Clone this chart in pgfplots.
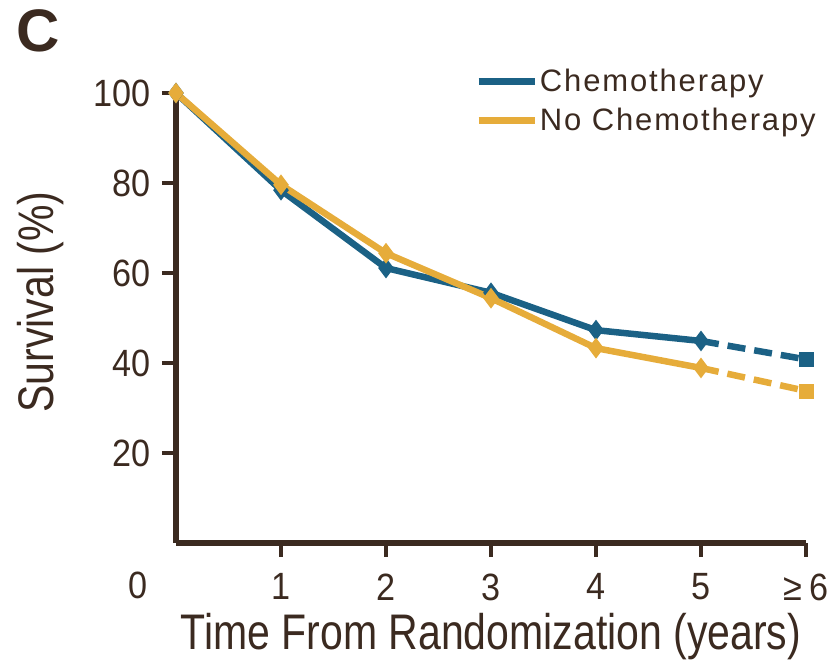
\documentclass[border=0pt]{standalone}
\usepackage{fontspec}
\usepackage{pgfplots}
\pgfplotsset{compat=1.18}
\setmainfont{Liberation Sans}
\newfontfamily\condensed{Liberation Sans}[FakeStretch=0.82]
\newfontfamily\ticks{Liberation Sans}[FakeStretch=0.9]
\newfontfamily\spaced{Liberation Sans}[LetterSpace=6]

\definecolor{axbrown}{HTML}{3B2A20}
\definecolor{chemoblue}{HTML}{1B6185}
\definecolor{nochemo}{HTML}{E6AC3A}

% survival (%) by year; the last point stands for >= 6 years
\pgfplotstableread{
x y
0 100
1 78.4
2 61.1
3 55.6
4 47.3
5 44.9
}\chemo
\pgfplotstableread{
x y
5 44.9
6 40.8
}\chemotail
\pgfplotstableread{
x y
0 100
1 79.6
2 64.4
3 54.4
4 43.3
5 38.9
}\nochemo
\pgfplotstableread{
x y
5 38.9
6 33.8
}\nochemotail

\begin{document}
\begin{tikzpicture}
\useasboundingbox (-176bp,-122bp) rectangle (658bp,543bp);
\begin{axis}[
  at={(0,0)}, anchor=south west,
  scale only axis, width=630bp, height=450bp,
  xmin=0, xmax=6, ymin=0, ymax=100,
  axis lines*=left, axis line style={line width=6bp, color=axbrown, -},
  xtick={1,2,3,4,5,6},
  xticklabels={1,2,3,4,5,≥\,6},
  ytick={20,40,60,80,100},
  tick align=outside,
  major tick length=14bp,
  tick style={line width=4.5bp, color=axbrown},
  /pgf/number format/assume math mode=true,
  tick label style={font=\fontsize{38bp}{40bp}\ticks, text=axbrown},
  xticklabel style={yshift=-13bp},
  yticklabel style={xshift=-8bp},
  xlabel={Time From Randomization (years)},
  ylabel={Survival (\%)},
  label style={font=\fontsize{50bp}{52bp}\condensed, text=axbrown},
  xlabel style={yshift=-6bp},
  ylabel style={yshift=23bp, xshift=16bp},
  clip=false,
  legend style={at={(rel axis cs:0.475,1.057)}, anchor=north west, draw=none, fill=none,
    font=\fontsize{31bp}{33bp}\spaced, text=axbrown, row sep=11bp, inner sep=0pt,
    /tikz/every even column/.append style={column sep=12bp}},
  legend cell align=left,
  legend image code/.code={\draw[#1] (0bp,0bp) -- (56bp,0bp);},
]
\addplot[chemoblue, line width=6.5bp, mark=diamond*, mark size=5bp] table {\chemo};
\addlegendentry{Chemotherapy}
\addplot[nochemo, line width=6.5bp, mark=diamond*, mark size=5bp] table {\nochemo};
\addlegendentry{No Chemotherapy}
\addplot[chemoblue, line width=6.5bp, dash pattern=on 18bp off 9bp, forget plot] table {\chemotail};
\addplot[nochemo, line width=6.5bp, dash pattern=on 18bp off 9bp, forget plot] table {\nochemotail};
\addplot[only marks, chemoblue, mark=square*, mark size=7bp, forget plot] table[x=x,y=y] {
x y
6 40.8
};
\addplot[only marks, nochemo, mark=square*, mark size=7bp, forget plot] table[x=x,y=y] {
x y
6 33.8
};
\node[font=\fontsize{38bp}{40bp}\ticks, text=axbrown, anchor=center] at ([yshift=-42bp]axis cs:-0.36,0) {0};
\node[font=\fontsize{60bp}{62bp}\bfseries, text=axbrown, anchor=north west, inner sep=0pt] at ([xshift=-160bp,yshift=84bp]rel axis cs:0,1) {C};
\end{axis}
\end{tikzpicture}
\end{document}
